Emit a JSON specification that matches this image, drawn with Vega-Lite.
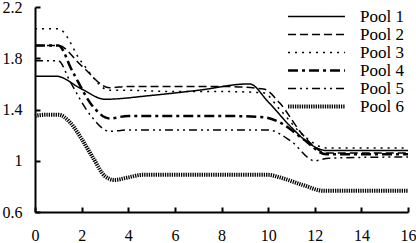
{
  "$schema": "https://vega.github.io/schema/vega-lite/v6.json",
  "width": 373,
  "height": 205,
  "autosize": "none",
  "padding": {"left": 35, "top": 7, "right": 8, "bottom": 31},
  "background": "white",
  "config": {
    "view": {"stroke": null},
    "font": "Liberation Serif",
    "axis": {"grid": false, "domainColor": "black", "domainWidth": 2, "tickColor": "black", "tickWidth": 2, "labelColor": "black", "labelFont": "Liberation Serif", "labelFontSize": 16, "title": null},
    "legend": {"labelFont": "Liberation Serif"}
  },
  "data": {
    "values": [
      {"pool": "Pool 1", "x": 0, "y": 1.66}, {"pool": "Pool 1", "x": 0.9, "y": 1.66}, {"pool": "Pool 1", "x": 2, "y": 1.56}, {"pool": "Pool 1", "x": 3, "y": 1.48}, {"pool": "Pool 1", "x": 5, "y": 1.51}, {"pool": "Pool 1", "x": 7, "y": 1.55}, {"pool": "Pool 1", "x": 9.2, "y": 1.6}, {"pool": "Pool 1", "x": 10, "y": 1.46}, {"pool": "Pool 1", "x": 11, "y": 1.26}, {"pool": "Pool 1", "x": 11.8, "y": 1.13}, {"pool": "Pool 1", "x": 12.5, "y": 1.08}, {"pool": "Pool 1", "x": 16, "y": 1.08},
      {"pool": "Pool 2", "x": 0, "y": 1.9}, {"pool": "Pool 2", "x": 1, "y": 1.9}, {"pool": "Pool 2", "x": 2, "y": 1.74}, {"pool": "Pool 2", "x": 3.2, "y": 1.57}, {"pool": "Pool 2", "x": 4, "y": 1.58}, {"pool": "Pool 2", "x": 6, "y": 1.58}, {"pool": "Pool 2", "x": 8, "y": 1.58}, {"pool": "Pool 2", "x": 9.8, "y": 1.56}, {"pool": "Pool 2", "x": 10.5, "y": 1.45}, {"pool": "Pool 2", "x": 11.5, "y": 1.2}, {"pool": "Pool 2", "x": 12.5, "y": 1.06}, {"pool": "Pool 2", "x": 16, "y": 1.06},
      {"pool": "Pool 3", "x": 0, "y": 2.03}, {"pool": "Pool 3", "x": 1, "y": 2.03}, {"pool": "Pool 3", "x": 2, "y": 1.77}, {"pool": "Pool 3", "x": 3.2, "y": 1.55}, {"pool": "Pool 3", "x": 4, "y": 1.55}, {"pool": "Pool 3", "x": 6, "y": 1.54}, {"pool": "Pool 3", "x": 8, "y": 1.54}, {"pool": "Pool 3", "x": 9.8, "y": 1.53}, {"pool": "Pool 3", "x": 10.5, "y": 1.4}, {"pool": "Pool 3", "x": 11.5, "y": 1.2}, {"pool": "Pool 3", "x": 12.5, "y": 1.1}, {"pool": "Pool 3", "x": 16, "y": 1.1},
      {"pool": "Pool 4", "x": 0, "y": 1.9}, {"pool": "Pool 4", "x": 1, "y": 1.9}, {"pool": "Pool 4", "x": 1.6, "y": 1.7}, {"pool": "Pool 4", "x": 2.5, "y": 1.42}, {"pool": "Pool 4", "x": 3.2, "y": 1.33}, {"pool": "Pool 4", "x": 4, "y": 1.35}, {"pool": "Pool 4", "x": 6, "y": 1.35}, {"pool": "Pool 4", "x": 8, "y": 1.35}, {"pool": "Pool 4", "x": 9.8, "y": 1.34}, {"pool": "Pool 4", "x": 10.5, "y": 1.3}, {"pool": "Pool 4", "x": 11.5, "y": 1.17}, {"pool": "Pool 4", "x": 12.5, "y": 1.05}, {"pool": "Pool 4", "x": 16, "y": 1.05},
      {"pool": "Pool 5", "x": 0, "y": 1.78}, {"pool": "Pool 5", "x": 1, "y": 1.78}, {"pool": "Pool 5", "x": 1.5, "y": 1.62}, {"pool": "Pool 5", "x": 2.4, "y": 1.35}, {"pool": "Pool 5", "x": 3.2, "y": 1.23}, {"pool": "Pool 5", "x": 4, "y": 1.24}, {"pool": "Pool 5", "x": 6, "y": 1.24}, {"pool": "Pool 5", "x": 8, "y": 1.24}, {"pool": "Pool 5", "x": 10, "y": 1.24}, {"pool": "Pool 5", "x": 11, "y": 1.15}, {"pool": "Pool 5", "x": 12, "y": 1.0}, {"pool": "Pool 5", "x": 12.6, "y": 1.02}, {"pool": "Pool 5", "x": 16, "y": 1.03},
      {"pool": "Pool 6", "x": 0, "y": 1.35}, {"pool": "Pool 6", "x": 0.5, "y": 1.36}, {"pool": "Pool 6", "x": 1, "y": 1.36}, {"pool": "Pool 6", "x": 1.5, "y": 1.3}, {"pool": "Pool 6", "x": 2, "y": 1.17}, {"pool": "Pool 6", "x": 2.5, "y": 1.02}, {"pool": "Pool 6", "x": 3, "y": 0.88}, {"pool": "Pool 6", "x": 3.4, "y": 0.85}, {"pool": "Pool 6", "x": 4, "y": 0.87}, {"pool": "Pool 6", "x": 4.6, "y": 0.89}, {"pool": "Pool 6", "x": 6, "y": 0.89}, {"pool": "Pool 6", "x": 8, "y": 0.89}, {"pool": "Pool 6", "x": 10, "y": 0.89}, {"pool": "Pool 6", "x": 10.5, "y": 0.87}, {"pool": "Pool 6", "x": 11.5, "y": 0.81}, {"pool": "Pool 6", "x": 12.4, "y": 0.765}, {"pool": "Pool 6", "x": 13, "y": 0.765}, {"pool": "Pool 6", "x": 16, "y": 0.765}
    ]
  },
  "mark": {"type": "line", "interpolate": "monotone", "color": "black"},
  "encoding": {
    "x": {"field": "x", "type": "quantitative", "scale": {"domain": [0, 16], "nice": false}, "axis": {"values": [0, 2, 4, 6, 8, 10, 12, 14, 16], "tickSize": -5, "labelPadding": 20, "labelFlush": false, "labelFont": "Liberation Serif"}},
    "y": {"field": "y", "type": "quantitative", "scale": {"domain": [0.6, 2.2], "nice": false, "zero": false}, "axis": {"values": [0.6, 1, 1.4, 1.8, 2.2], "format": "~g", "tickSize": -5, "labelPadding": 18, "labelFlush": false, "labelFont": "Liberation Serif"}},
    "strokeDash": {"field": "pool", "type": "nominal", "scale": {"domain": ["Pool 1", "Pool 2", "Pool 3", "Pool 4", "Pool 5", "Pool 6"], "range": [[1, 0], [8, 4], [2, 5], [10, 4, 3, 4], [8, 4, 2, 4, 2, 4], [1.3, 1]]}, "legend": {"title": null, "orient": "none", "legendX": 273, "legendY": 1, "symbolType": "M-6,0H6", "symbolSize": 90, "labelFont": "Liberation Serif", "labelFontSize": 17, "labelColor": "black", "labelOffset": 35, "rowPadding": 0, "symbolStrokeColor": "black"}},
    "strokeWidth": {"field": "pool", "type": "ordinal", "scale": {"type": "ordinal", "domain": ["Pool 1", "Pool 2", "Pool 3", "Pool 4", "Pool 5", "Pool 6"], "range": [1.5, 1.5, 1.5, 2.5, 1.5, 4]}, "legend": {"title": null, "orient": "none", "legendX": 273, "legendY": 1, "symbolType": "M-6,0H6", "symbolSize": 90, "labelFont": "Liberation Serif", "labelFontSize": 17, "labelColor": "black", "labelOffset": 35, "rowPadding": 0, "symbolStrokeColor": "black"}}
  }
}
